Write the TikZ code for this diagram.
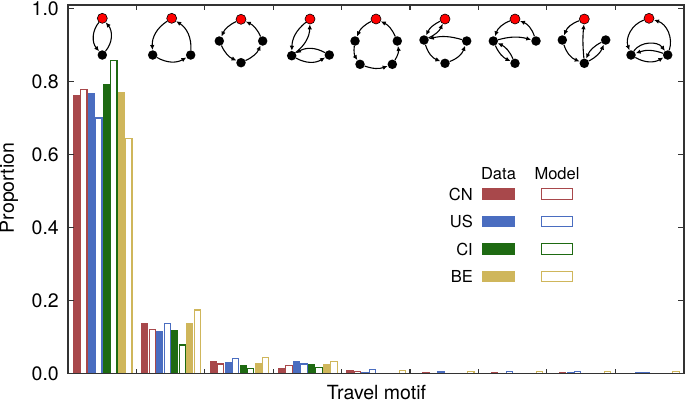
\documentclass[tikz,border=0pt]{standalone}
\usepackage{fontspec}
\setmainfont{TeX Gyre Heros}
\usetikzlibrary{arrows.meta}

\definecolor{cn}{HTML}{A8484B}
\definecolor{us}{HTML}{4A6DC0}
\definecolor{ci}{HTML}{1E6A12}
\definecolor{be}{HTML}{CFB65B}

\tikzset{
  visit/.style={shape=circle,fill=black,inner sep=0pt,minimum size=9.5bp},
  home/.style={shape=circle,fill=red,draw=black,line width=0.6bp,inner sep=0pt,minimum size=10bp},
  trip/.style={-{Latex[length=5bp,width=4.5bp]},draw=black,line width=1.1bp},
  modelbar/.style={fill=white,line width=1.1bp},
  axis/.style={draw=black!80,line width=1.2bp},
  ticklabel/.style={font=\fontsize{19.5bp}{22bp}\selectfont,inner sep=0pt},
  legendlabel/.style={font=\fontsize{16.5bp}{19bp}\selectfont,inner sep=0pt}
}

\begin{document}
\begin{tikzpicture}[x=1bp,y=-1bp]
\useasboundingbox (0,0) rectangle (685,404);

% bars: data filled, model outlined
\foreach \g/\va/\vb/\vc/\vd/\ve/\vf/\vh/\vk in {
  0/0.763/0.779/0.768/0.702/0.794/0.859/0.771/0.647,
  1/0.140/0.122/0.117/0.138/0.120/0.080/0.140/0.176,
  2/0.036/0.028/0.032/0.042/0.024/0.016/0.030/0.045,
  3/0.016/0.023/0.034/0.028/0.027/0.018/0.026/0.035,
  4/0.010/0.008/0.006/0.014/0.003/0.003/0.003/0.011,
  5/0.003/0.004/0.003/0.006/0.003/0.003/0.002/0.008,
  6/0.003/0.005/0.003/0.007/0.003/0.003/0.003/0.008,
  7/0.003/0.004/0.004/0.007/0.003/0.003/0.002/0.008,
  8/0.002/0.003/0.004/0.004/0.003/0.003/0.003/0.008} {
  \foreach \k/\dv/\mv/\col in {0/\va/\vb/cn,1/\vc/\vd/us,2/\ve/\vf/ci,3/\vh/\vk/be} {
    \fill[\col] ({72.7+68.4*\g+15*\k},373.7) rectangle ++(7.3,{-365*\dv});
    \draw[\col,modelbar] ({80.7+68.4*\g+15*\k},373.7) rectangle ++(6.3,{-365*\mv+0.5});
  }
}

% frame and ticks
\draw[axis] (68,5) rectangle (684,373.7);
\foreach \v [count=\i] in {0.0,0.2,0.4,0.6,0.8,1.0} {
  \draw[axis] (68,{373.7-365*\v}) -- ++(6,0);
  \draw[axis] (684,{373.7-365*\v}) -- ++(-6,0);
  \node[ticklabel,anchor=east] (ytick\i) at (59,{373.7-365*\v}) {\v};
}
\foreach \i in {1,...,8} {
  \draw[axis] ({68+68.4*\i},373.7) -- ++(0,-5);
  \draw[axis] ({68+68.4*\i},5) -- ++(0,5);
}
\node[ticklabel,rotate=90] (ylabel) at (9,188) {Proportion};
\node[ticklabel,anchor=base] (xlabel) at (376.5,399.5) {Travel motif};

% legend
\node[legendlabel] (data) at (498.5,173.3) {Data};
\node[legendlabel] (model) at (557,173.3) {Model};
\node[legendlabel,anchor=east] (cnlabel) at (473,194) {CN};
\node[legendlabel,anchor=east] (uslabel) at (473,221.5) {US};
\node[legendlabel,anchor=east] (cilabel) at (473,249) {CI};
\node[legendlabel,anchor=east] (belabel) at (473,276.5) {BE};
\fill[cn] (482.3,188.2) rectangle (514.7,199.8);
\fill[us] (482.3,215.7) rectangle (514.7,227.3);
\fill[ci] (482.3,243.2) rectangle (514.7,254.8);
\fill[be] (482.3,270.7) rectangle (514.7,282.3);
\draw[cn,modelbar] (541.5,188.7) rectangle (572.8,199.3);
\draw[us,modelbar] (541.5,216.2) rectangle (572.8,226.8);
\draw[ci,modelbar] (541.5,243.7) rectangle (572.8,254.3);
\draw[be,modelbar] (541.5,271.2) rectangle (572.8,281.8);

% motifs
\node[home] (10) at (102.3,18.3) {};
\node[visit] (11) at (102.3,55) {};
\path [trip] (10) edge[bend right=40] (11);
\path [trip] (11) edge[bend right=40] (10);

\node[home] (20) at (171.7,18.3) {};
\node[visit] (21) at (152.7,55) {};
\node[visit] (22) at (190.7,55) {};
\path [trip] (20) edge[bend right=30] (21);
\path [trip] (21) edge[bend right=30] (22);
\path [trip] (22) edge[bend right=30] (20);

\node[home] (30) at (241,19.3) {};
\node[visit] (31) at (219.3,41) {};
\node[visit] (32) at (241,62.7) {};
\node[visit] (33) at (262.7,41) {};
\path [trip] (30) edge[bend right=20] (31);
\path [trip] (31) edge[bend right=20] (32);
\path [trip] (32) edge[bend right=20] (33);
\path [trip] (33) edge[bend right=20] (30);

\node[home] (40) at (310,19) {};
\node[visit] (41) at (291.7,55.7) {};
\node[visit] (42) at (329.3,55) {};
\path [trip] (40) edge[bend right=25] (41);
\path [trip] (41) edge[bend right=25] (40);
\path [trip] (42) edge[bend right=30] (41);
\path [trip] (41) edge[bend right=30] (42);

\node[home] (50) at (376,19) {};
\node[visit] (51) at (355,41) {};
\node[visit] (52) at (360,64.3) {};
\node[visit] (53) at (392.3,64.3) {};
\node[visit] (54) at (397.3,41) {};
\path [trip] (50) edge[bend right=20] (51);
\path [trip] (51) edge[bend right=20] (52);
\path [trip] (52) edge[bend right=20] (53);
\path [trip] (53) edge[bend right=20] (54);
\path [trip] (54) edge[bend right=20] (50);

\node[home] (60) at (445,19) {};
\node[visit] (61) at (424,40) {};
\node[visit] (62) at (466.7,41) {};
\node[visit] (63) at (445,63.3) {};
\path [trip] (60) edge[bend right=20] (61);
\path [trip] (61) edge[bend right=20] (60);
\path [trip] (62) edge[bend right=15] (61);
\path [trip] (61) edge[bend right=25] (63);
\path [trip] (63) edge[bend right=25] (62);

\node[home] (70) at (515,19) {};
\node[visit] (71) at (493.3,41) {};
\node[visit] (72) at (536,41) {};
\node[visit] (73) at (515,63.3) {};
\path [trip] (70) edge[bend right=25] (71);
\path [trip] (72) edge[bend right=25] (70);
\path [trip] (71) edge[bend left=15] (72);
\path [trip] (71) edge[bend right=20] (73);
\path [trip] (73) edge[bend right=20] (71);

\node[home] (80) at (584.3,19) {};
\node[visit] (81) at (562.3,40) {};
\node[visit] (82) at (605.7,40) {};
\node[visit] (83) at (584.3,63.3) {};
\path [trip] (80) edge[bend right=25] (81);
\path [trip] (81) edge[bend right=25] (83);
\path [trip] (83) edge[bend left=5] (80);
\path [trip] (83) edge[bend right=20] (82);
\path [trip] (82) edge[bend right=20] (83);

\node[home] (90) at (649,18.3) {};
\node[visit] (91) at (631,55) {};
\node[visit] (92) at (667.7,55) {};
\path [trip] (90) edge[bend right=45] (91);
\path [trip] (92) edge[bend right=45] (90);
\path [trip] (91) edge[bend left=55] (92);
\path [trip] (92) edge[bend right=20] (91);
\path [trip] (91) edge[bend right=30] (92);
\end{tikzpicture}
\end{document}
